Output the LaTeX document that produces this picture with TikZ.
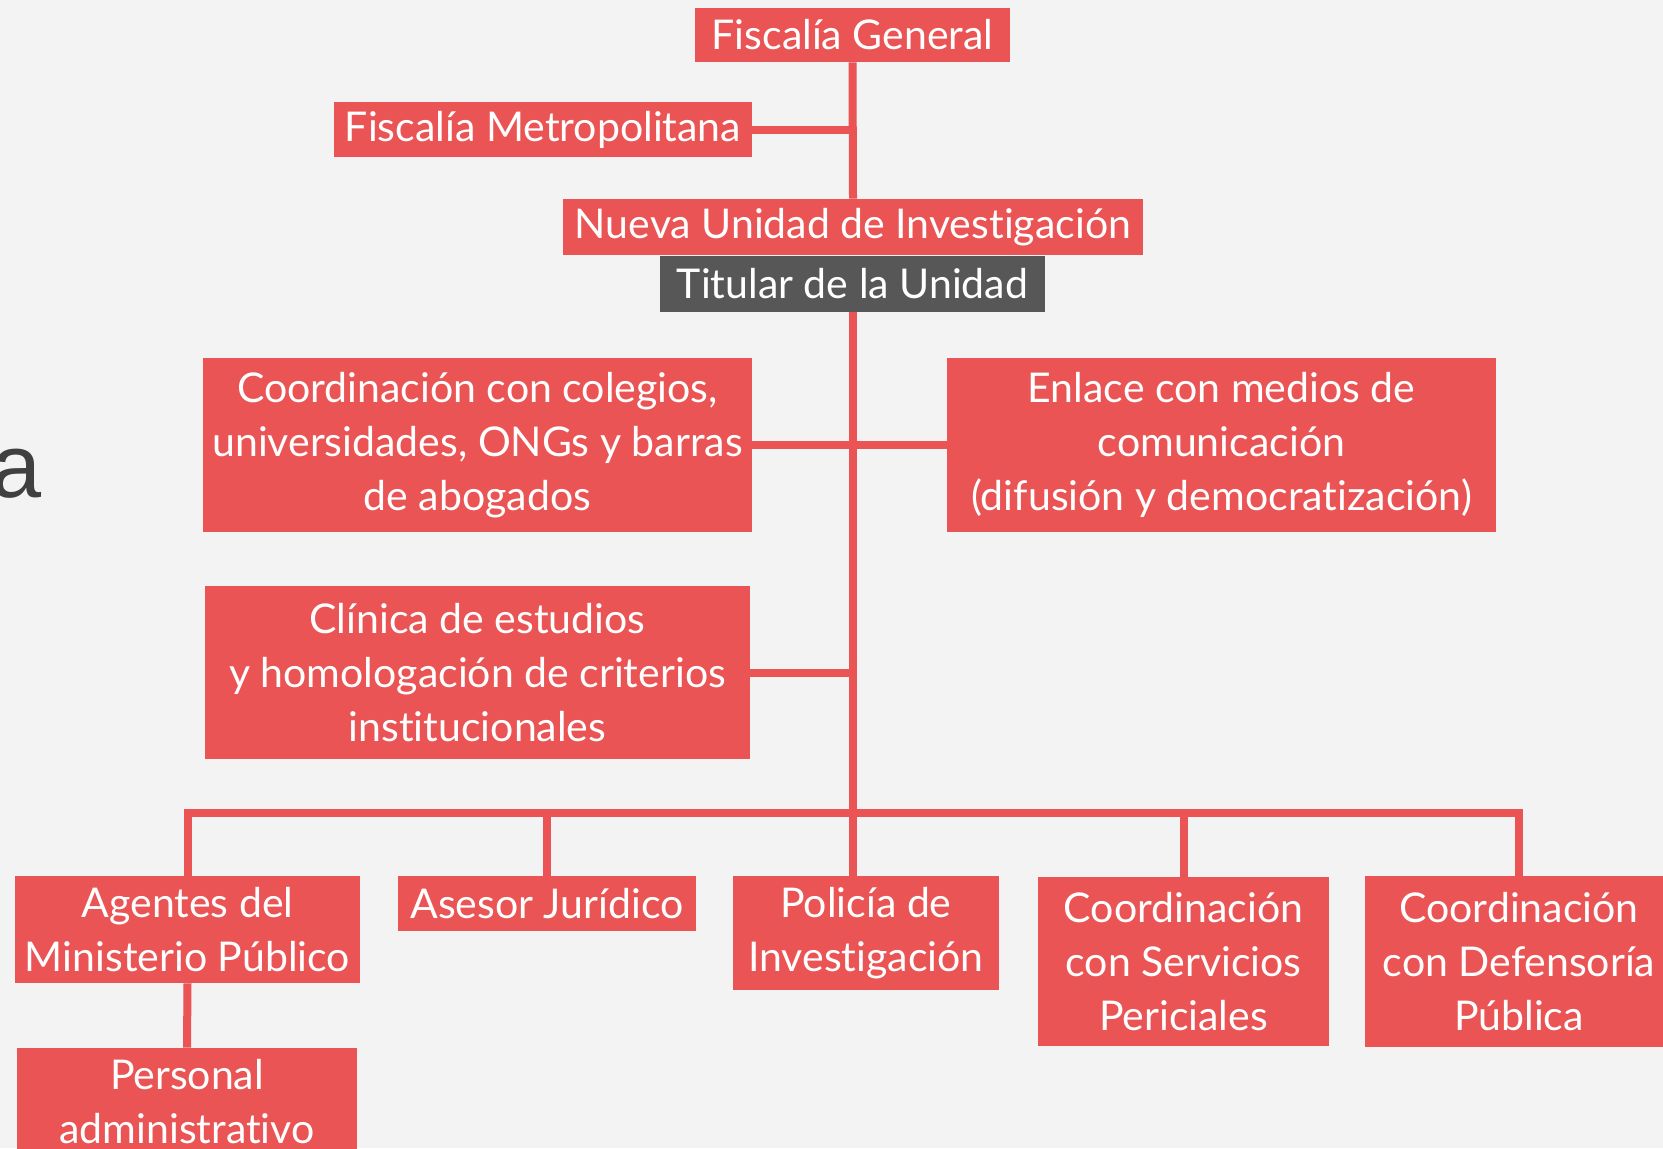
\documentclass[tikz,border=0pt]{standalone}
\usepackage{fontspec}
\setmainfont{Lato}[Ligatures=NoCommon]
\newfontfamily\titlefont{Liberation Sans}
\usepackage{xcolor}
\usetikzlibrary{positioning,calc}
\definecolor{UnitRed}{HTML}{EB5454}
\definecolor{UnitGray}{HTML}{575757}
\definecolor{PageGray}{HTML}{F3F3F3}
\definecolor{TitleGray}{HTML}{404040}
\tikzset{
  unitbox/.style={fill=UnitRed, text=white, align=center, inner sep=0pt, font=\fontsize{20.5}{27}\selectfont},
  headbox/.style={unitbox, fill=UnitGray},
  link/.style={draw=UnitRed, line width=4pt}
}

\begin{document}
\begin{tikzpicture}[x=0.5pt, y=-0.5pt]
        \useasboundingbox (0,0) rectangle (1663,1148);
        \clip (0,0) rectangle (1663,1148);
        \fill[PageGray] (0,0) rectangle (1663,1148);

        \node[font=\titlefont\fontsize{45}{45}\selectfont, text=TitleGray, anchor=base east, inner sep=0pt] (titlea) at (42,497) {a};

        % upper chain
        \node[unitbox, minimum width=157.5pt, minimum height=27pt] (fg) at (852.5,35) {Fiscalía General};
        \node[unitbox, minimum width=209pt, minimum height=27.5pt] (fm) at (543,129.5) {Fiscalía Metropolitana};
        \node[unitbox, minimum width=290pt, minimum height=28pt] (nui) at (853,227) {Nueva Unidad de Investigación};
        \node[headbox, minimum width=192.5pt, minimum height=28pt] (tit) at (852.5,284) {Titular de la Unidad};

        % side units
        \node[unitbox, minimum width=274.5pt, minimum height=87pt] (col) at (477.5,445) {Coordinación con colegios,\\universidades, ONGs y barras\\de abogados};
        \node[unitbox, minimum width=274.5pt, minimum height=87pt] (enl) at (1221.5,445) {Enlace con medios de\\comunicación\\(difusión y democratización)};
        \node[unitbox, minimum width=272.5pt, minimum height=86.5pt] (cli) at (477.5,672.5) {Clínica de estudios\\y homologación de criterios\\institucionales};

        % bottom row
        \node[unitbox, minimum width=172.5pt, minimum height=53.5pt] (age) at (187.5,929.5) {Agentes del\\Ministerio Público};
        \node[unitbox, minimum width=149pt, minimum height=27.5pt] (ase) at (547,903.5) {Asesor Jurídico};
        \node[unitbox, minimum width=133pt, minimum height=57pt] (pol) at (866,933) {Policía de\\Investigación};
        \node[unitbox, minimum width=145.5pt, minimum height=84.5pt] (per) at (1183.5,961.5) {Coordinación\\con Servicios\\Periciales};
        \node[unitbox, minimum width=154pt, minimum height=85.5pt] (def) at (1519,961.5) {Coordinación\\con Defensoría\\Pública};
        \node[unitbox, minimum width=170pt, minimum height=53.5pt] (pers) at (187,1101.5) {Personal\\administrativo};

        \coordinate (bus) at (852.5,813);

        \draw[link] (fg.south) -- (nui.north);
        \draw[link] (fm.east) -- (fm.east -| fg.south);
        \draw[link] (tit.south) -- (tit.south |- pol.north);
        \draw[link] (col.east) -- (enl.west);
        \draw[link] (cli.east) -- (cli.east -| tit.south);
        \draw[link] (age.north) -- (age.north |- bus) -- (def.north |- bus) -- (def.north);
        \draw[link] (ase.north) -- (ase.north |- bus);
        \draw[link] (per.north) -- (per.north |- bus);
        \draw[link] (age.south) -- (pers.north);
    \end{tikzpicture}
\end{document}
